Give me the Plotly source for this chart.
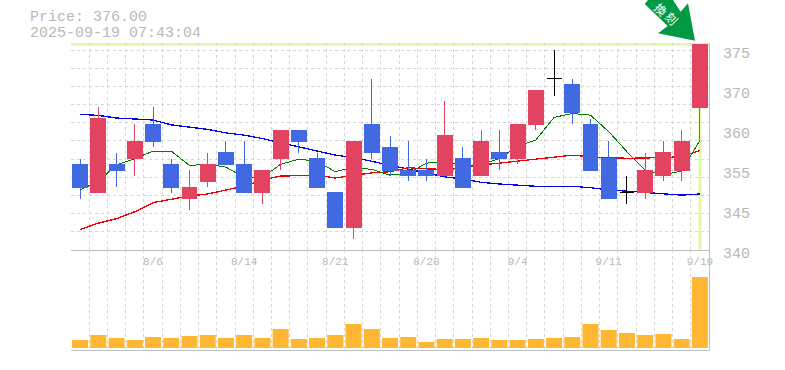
import plotly.graph_objects as go

W, H = 785, 370

dates = ["7/31", "8/1", "8/4", "8/5", "8/6", "8/7", "8/8", "8/12", "8/13", "8/14",
         "8/15", "8/18", "8/19", "8/20", "8/21", "8/22", "8/25", "8/26", "8/27", "8/28",
         "8/29", "9/1", "9/2", "9/3", "9/4", "9/5", "9/8", "9/9", "9/10", "9/11",
         "9/12", "9/16", "9/17", "9/18", "9/19"]
open_ = [355, 350, 355, 356, 362, 355, 349, 352, 357, 355, 350, 356, 361, 356, 350, 344, 362, 358,
         354, 354, 353, 356, 353, 357, 356, 362, 370, 369, 362, 356, 350, 350, 353, 354, 365]
high = [356, 365, 357, 362, 365, 356, 354, 357, 359, 359, 354, 361, 361, 357, 350, 359, 370, 360,
        359, 356, 366, 358, 361, 361, 362, 368, 375, 370, 363, 359, 353, 357, 359, 361, 376]
low = [349, 350, 351, 353, 358, 350, 347, 351, 355, 350, 348, 354, 357, 351, 344, 342, 356, 353,
       352, 352, 353, 351, 353, 354, 355, 361, 367, 362, 354, 349, 348, 349, 352, 352, 359]
close = [351, 363, 354, 359, 359, 351, 351, 355, 355, 350, 354, 361, 359, 351, 344, 359, 357, 354,
         353, 353, 360, 351, 359, 356, 362, 368, 370, 364, 354, 349, 350, 354, 357, 359, 376]
ma_short = [350.5, 352.0, 354.9, 356.0, 357.3, 357.3, 354.8, 355.0, 354.5, 352.7, 352.7, 355.0,
            355.9, 355.5, 353.7, 354.5, 354.1, 353.1, 353.4, 355.2, 355.5, 354.8, 354.9, 356.0,
            358.2, 359.25, 363.2, 363.9, 363.6, 360.7, 357.2, 354.0, 353.2, 353.8, 359.2]
ma_mid = [343.6, 344.7, 345.5, 346.7, 348.3, 348.9, 349.45, 349.8, 350.5, 351.2, 352.25, 352.95,
          353.0, 353.07, 352.6, 353.1, 353.5, 353.7, 354.4, 354.2, 354.1, 354.3, 354.9, 355.2,
          355.55, 355.9, 356.2, 356.6, 356.3, 356.2, 356.05, 356.1, 356.2, 356.3, 357.4]
ma_long = [363.75, 363.55, 363.1, 362.9, 362.75, 361.9, 361.5, 361.1, 360.5, 360.1, 359.5, 358.8,
           358.05, 357.4, 356.6, 356.2, 355.5, 354.9, 354.1, 353.4, 352.8, 352.4, 351.85, 351.55,
           351.35, 351.15, 351.15, 351.15, 350.9, 350.5, 350.3, 350.05, 349.75, 349.6, 349.8]
volume = [800, 1300, 1000, 800, 1100, 1000, 1200, 1300, 1000, 1300, 1000, 1900, 900, 1000, 1300,
          2400, 1900, 1000, 1100, 600, 900, 900, 1000, 800, 800, 900, 1000, 1100, 2400, 1800,
          1500, 1300, 1400, 900, 7100]

price_ticks = [340, 347, 354, 361, 368, 375]
price_labels = ["340", "345", "355", "360", "370", "375"]
date_ticks = [4, 9, 14, 19, 24, 29, 34]
date_labels = ["8/6", "8/14", "8/21", "8/28", "9/4", "9/11", "9/19"]
price_text = "Price: 376.00"
time_text = "2025-09-19 07:43:04"
arrow_text = ["換", "刻"]
last_price = 376.0

RED, BLUE, BLACK = "#e24360", "#4169e1", "#000000"
GRID, AXIS, TXT, LIME = "#d6d6d6", "#c0c0c0", "#b8b8b8", "#e6f6aa"
MONO = "Liberation Mono, monospace"

xs = list(range(len(dates)))
doji = [i for i in xs if open_[i] == close[i]]
solid = [i for i in xs if i not in doji]
top_px, main_bottom_px, bottom_px = 43, 250, 350
px_per_yen = 200 / 35
y_top = 340 + (main_bottom_px - top_px) / px_per_yen
split = (bottom_px - main_bottom_px) / (bottom_px - top_px)
x_range = [-0.5, len(dates) - 0.5]
x_grid = [i - 0.5 for i in range(len(dates) + 1)]
y_grid = [340 + i * 35 / 11 for i in range(12)]

fig = go.Figure()
for vals, colour, w in [(ma_long, "#0000ee", 1.3), (ma_mid, "#f00000", 1.3), (ma_short, "#007a00", 1)]:
    fig.add_trace(go.Scatter(x=xs, y=vals, mode="lines", line=dict(color=colour, width=w), showlegend=False))


def pick(seq, idx):
    return [seq[i] for i in idx]


fig.add_trace(go.Candlestick(
    x=solid, open=pick(open_, solid), high=pick(high, solid), low=pick(low, solid), close=pick(close, solid),
    xaxis="x3", yaxis="y3", whiskerwidth=0, showlegend=False,
    increasing=dict(line=dict(color=RED, width=1), fillcolor=RED),
    decreasing=dict(line=dict(color=BLUE, width=1), fillcolor=BLUE)))
fig.add_trace(go.Candlestick(
    x=doji, open=pick(open_, doji), high=pick(high, doji), low=pick(low, doji), close=pick(close, doji),
    xaxis="x3", yaxis="y3", whiskerwidth=0, showlegend=False,
    increasing=dict(line=dict(color=BLACK, width=1), fillcolor=BLACK),
    decreasing=dict(line=dict(color=BLACK, width=1), fillcolor=BLACK)))
fig.add_trace(go.Bar(x=xs, y=volume, xaxis="x2", yaxis="y2", width=0.88, marker=dict(color="#ffb733", line_width=0),
                     showlegend=False))


def px(x):
    return x / (W - 71 - 76) - 71 / (W - 71 - 76)


def py(y):
    return (bottom_px - y) / (bottom_px - top_px)


arrow_pts = [(644.7, 4), (648, 0), (673, 0), (680.7, 11.7), (688, 3.3), (695, 40.7), (658, 33.3), (667.7, 26)]
arrow_path = "M " + " L ".join(f"{px(a):.5f},{py(b):.5f}" for a, b in arrow_pts) + " Z"
shapes = [
    dict(type="rect", xref="x", yref="y", x0=x_range[0], x1=x_range[1], y0=375.1, y1=y_top,
         fillcolor="white", line_width=0, layer="below"),
    dict(type="line", xref="x", yref="y", x0=x_range[0], x1=x_range[1], y0=last_price, y1=last_price,
         line=dict(color=LIME, width=3), layer="below"),
    dict(type="line", xref="x", yref="y", x0=xs[-1], x1=xs[-1], y0=340, y1=y_top,
         line=dict(color=LIME, width=3), layer="below"),
    dict(type="path", xref="paper", yref="paper", path=arrow_path, fillcolor="#009944", line_width=0, layer="above"),
]

annotations = [
    dict(text=price_text, xref="paper", yref="paper", x=px(28), y=py(18), xanchor="left", yanchor="middle",
         showarrow=False, font=dict(family=MONO, size=15, color=TXT)),
    dict(text=time_text, xref="paper", yref="paper", x=px(28), y=py(33), xanchor="left", yanchor="middle",
         showarrow=False, font=dict(family=MONO, size=15, color=TXT)),
    dict(text=arrow_text[0], xref="paper", yref="paper", x=px(660.5), y=py(9), xanchor="center", yanchor="middle",
         showarrow=False, textangle=45, font=dict(family="Noto Sans CJK JP", size=12, color="white")),
    dict(text=arrow_text[1], xref="paper", yref="paper", x=px(671.5), y=py(18), xanchor="center", yanchor="middle",
         showarrow=False, textangle=45, font=dict(family="Noto Sans CJK JP", size=12, color="white")),
]

minor_x = dict(tickmode="array", tickvals=x_grid, showgrid=True, gridcolor=GRID, griddash="3px,3px", gridwidth=1, ticks="")
fig.update_layout(
    width=W, height=H, margin=dict(l=71, r=76, t=top_px, b=H - bottom_px, pad=0, autoexpand=False),
    paper_bgcolor="white", plot_bgcolor="white", showlegend=False, boxgap=0.18, boxgroupgap=0, boxmode="overlay", bargap=0.12,
    shapes=shapes, annotations=annotations,
    xaxis=dict(domain=[0, 1], range=x_range, anchor="y", tickmode="array", tickvals=date_ticks, ticktext=date_labels,
               showgrid=False, zeroline=False, showline=True, linecolor=AXIS, linewidth=1, ticks="", minor=minor_x,
               tickangle=0, tickfont=dict(family=MONO, size=11, color=TXT), ticklabelstandoff=1, rangeslider=dict(visible=False)),
    yaxis=dict(domain=[split, 1], range=[340, y_top], anchor="x", side="right", tickmode="array", tickvals=price_ticks,
               ticktext=price_labels, showgrid=False, zeroline=False, showline=True, linecolor=AXIS, linewidth=1,
               ticks="", ticklabelstandoff=10, ticklabelshift=3, tickfont=dict(family=MONO, size=15, color=TXT),
               minor=dict(tickmode="array", tickvals=y_grid, showgrid=True, gridcolor=GRID, griddash="3px,3px", gridwidth=1, ticks="")),
    xaxis2=dict(domain=[0, 1], range=x_range, anchor="y2", showticklabels=False, showgrid=False, zeroline=False,
                showline=True, linecolor=AXIS, linewidth=1, ticks="", tickmode="array", tickvals=date_ticks, minor=minor_x),
    yaxis2=dict(domain=[0, split], range=[-200, 9800], anchor="x2", side="right", showticklabels=False, showgrid=False,
                zeroline=False, showline=True, linecolor=AXIS, linewidth=1, ticks=""),
    xaxis3=dict(overlaying="x", range=x_range, anchor="y3", visible=False, rangeslider=dict(visible=False)),
    yaxis3=dict(overlaying="y", range=[340, y_top], anchor="x3", visible=False),
)
post = """document.body.style.margin='0';document.body.style.overflow='hidden';
var st=document.createElement('style');
st.textContent='.boxlayer path,.scatterlayer path{shape-rendering:crispEdges !important}';
document.head.appendChild(st);"""
fig.write_html("out.html", config={"displayModeBar": False}, post_script=post)
